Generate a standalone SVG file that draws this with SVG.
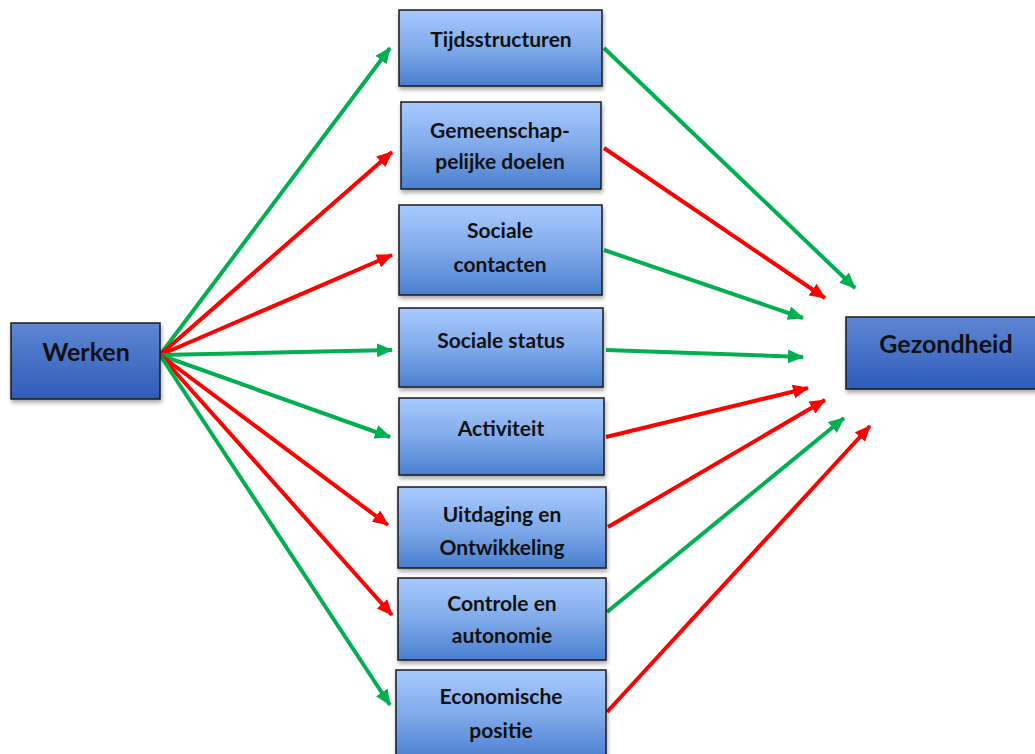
<svg xmlns="http://www.w3.org/2000/svg" width="1035" height="754" viewBox="0 0 1035 754">
<defs>
<linearGradient id="gLight" x1="0" y1="0" x2="0" y2="1">
<stop offset="0" stop-color="#a9caff"/>
<stop offset="0.5" stop-color="#80aaea"/>
<stop offset="1" stop-color="#4a7fcf"/>
</linearGradient>
<linearGradient id="gDark" x1="0" y1="0" x2="0" y2="1">
<stop offset="0" stop-color="#5f86d3"/>
<stop offset="1" stop-color="#2f5cb9"/>
</linearGradient>
<filter id="sh" x="-10%" y="-10%" width="130%" height="140%">
<feGaussianBlur in="SourceAlpha" stdDeviation="2"/>
<feOffset dx="1" dy="3" result="b"/>
<feComponentTransfer><feFuncA type="linear" slope="0.35"/></feComponentTransfer>
<feMerge><feMergeNode/><feMergeNode in="SourceGraphic"/></feMerge>
</filter>
<marker id="aG" markerUnits="userSpaceOnUse" markerWidth="16" markerHeight="14" refX="15" refY="7" orient="auto">
<path d="M0,0 L16,7 L0,14 z" fill="#00b050"/>
</marker>
<marker id="aR" markerUnits="userSpaceOnUse" markerWidth="16" markerHeight="14" refX="15" refY="7" orient="auto">
<path d="M0,0 L16,7 L0,14 z" fill="#ff0000"/>
</marker>
</defs>
<style>
.box{stroke:#1a1a1a;stroke-width:1.5;filter:url(#sh)}
.light{fill:url(#gLight)}
.dark{fill:url(#gDark)}
.t{font-family:Lato,"Open Sans","Liberation Sans",sans-serif;font-weight:bold;font-size:21px;fill:#111;text-anchor:middle}
.tb{font-size:25px}
.g{stroke:#00b050;stroke-width:4;fill:none;marker-end:url(#aG)}
.r{stroke:#ff0000;stroke-width:4;fill:none;marker-end:url(#aR)}
</style>
<rect width="1035" height="754" fill="#ffffff"/>
<g id="connectors">
<line class="g" x1="160" y1="355" x2="390" y2="48"/>
<line class="r" x1="160" y1="355" x2="392" y2="152"/>
<line class="r" x1="160" y1="355" x2="392" y2="255"/>
<line class="g" x1="160" y1="355" x2="392" y2="350"/>
<line class="g" x1="160" y1="355" x2="390" y2="437"/>
<line class="r" x1="160" y1="355" x2="388" y2="525"/>
<line class="r" x1="160" y1="355" x2="392" y2="615"/>
<line class="g" x1="160" y1="355" x2="390" y2="705"/>
<line class="g" x1="604" y1="48" x2="855" y2="288"/>
<line class="r" x1="604" y1="148" x2="825" y2="298"/>
<line class="g" x1="604" y1="250" x2="803" y2="318"/>
<line class="g" x1="606" y1="350" x2="803" y2="357"/>
<line class="r" x1="606" y1="437" x2="808" y2="388"/>
<line class="r" x1="608" y1="527" x2="825" y2="400"/>
<line class="g" x1="607" y1="612" x2="844" y2="418"/>
<line class="r" x1="607" y1="712" x2="870" y2="426"/>
</g>
<g id="werken">
<rect class="box dark" x="11" y="323" width="149" height="76"/>
<text class="t tb" x="86" y="361">Werken</text>
</g>
<g id="gezondheid">
<rect class="box dark" x="846" y="317" width="192" height="72"/>
<text class="t tb" x="946" y="353">Gezondheid</text>
</g>
<g id="tijdsstructuren">
<rect class="box light" x="399" y="10" width="203" height="76"/>
<text class="t" x="501" y="47">Tijdsstructuren</text>
</g>
<g id="gemeenschappelijke">
<rect class="box light" x="401" y="102" width="200" height="87"/>
<text class="t" x="500" y="138">Gemeenschap-</text>
<text class="t" x="500" y="169">pelijke doelen</text>
</g>
<g id="sociale-contacten">
<rect class="box light" x="399" y="205" width="203" height="90"/>
<text class="t" x="500" y="238">Sociale</text>
<text class="t" x="500" y="272">contacten</text>
</g>
<g id="sociale-status">
<rect class="box light" x="399" y="308" width="204" height="79"/>
<text class="t" x="501" y="348">Sociale status</text>
</g>
<g id="activiteit">
<rect class="box light" x="399" y="398" width="205" height="77"/>
<text class="t" x="501" y="436">Activiteit</text>
</g>
<g id="uitdaging">
<rect class="box light" x="398" y="487" width="208" height="81"/>
<text class="t" x="502" y="522">Uitdaging en</text>
<text class="t" x="502" y="555">Ontwikkeling</text>
</g>
<g id="controle">
<rect class="box light" x="398" y="578" width="208" height="82"/>
<text class="t" x="502" y="611">Controle en</text>
<text class="t" x="502" y="643">autonomie</text>
</g>
<g id="economische">
<rect class="box light" x="396" y="670" width="210" height="90"/>
<text class="t" x="501" y="704">Economische</text>
<text class="t" x="501" y="738">positie</text>
</g>
</svg>
